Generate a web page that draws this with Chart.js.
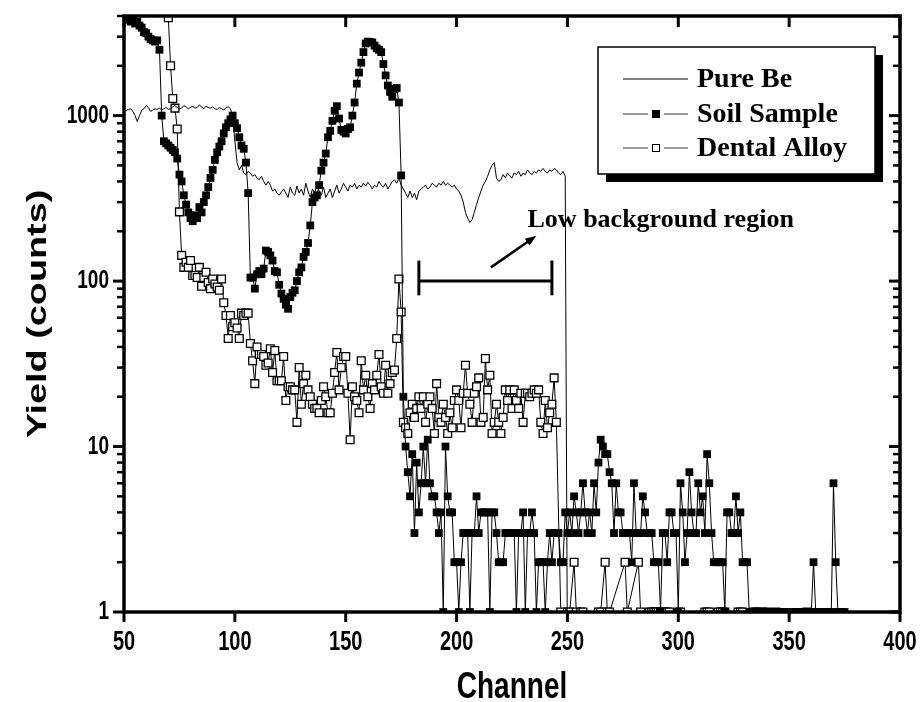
<!DOCTYPE html>
<html>
<head>
<meta charset="utf-8">
<script src="https://cdn.jsdelivr.net/npm/chart.js@4.4.0/dist/chart.umd.min.js"></script>
<style>
  html, body { margin: 0; background: #fff; }
  #wrap { width: 923px; height: 702px; }
</style>
</head>
<body>
<div id="wrap"><canvas id="chart"></canvas></div>
<script>
// -------- Datos (lectura aproximada del espectro) --------
const xTicks = [50, 100, 150, 200, 250, 300, 350, 400];
const yTicks = [1, 10, 100, 1000];
const seriesNames = ["Pure Be", "Soil Sample", "Dental Alloy"];
const xTitle = "Channel";
const yTitle = "Yield (counts)";

// Pure Be: un valor por canal desde el canal 50
const beStart = 50;
const beCounts = [
  1080,1070,1090,1100,1060,1000,920,1000,1080,1100,
  1150,1120,1060,1080,1100,1090,1110,1080,1100,1120,
  1090,1100,1130,1150,1120,1100,1110,1150,1130,1100,
  1120,1140,1110,1120,1160,1130,1100,1140,1120,1110,
  1130,1100,1090,1120,1100,1080,1120,1130,1100,1000,
  700,520,470,500,450,440,460,450,430,440,
  420,410,430,400,380,400,380,350,360,340,
  330,345,360,340,320,370,340,330,375,340,
  360,330,390,350,320,360,340,380,350,330,
  370,320,340,360,320,350,380,340,360,390,
  370,350,380,370,390,360,380,370,390,375,
  395,380,360,380,370,400,380,370,390,360,
  380,400,410,390,420,380,360,340,320,350,
  320,340,310,350,360,370,380,360,370,390,
  380,370,390,380,400,380,390,380,370,380,
  360,350,330,300,260,240,226,235,260,290,
  320,350,380,400,430,470,500,520,420,400,
  410,440,420,450,430,420,450,440,460,430,
  450,440,470,450,440,460,450,470,460,480,
  460,450,470,460,480,470,450,440,460,430,
  0.5
];

// Soil Sample: desde el canal 51
const soilStart = 51;
const soilCounts = [
  3900,3800,3700,3800,3600,3700,3500,3400,3200,3150,
  3000,2900,2850,2800,2850,2500,1000,700,680,660,
  640,620,600,550,440,400,330,290,260,240,
  230,250,240,280,260,300,330,370,420,470,
  540,600,650,700,780,850,900,950,1000,900,
  840,740,660,630,520,340,105,105,90,110,
  115,110,119,153,150,143,133,115,113,95,
  84,78,72,68,80,85,88,100,113,121,
  140,150,170,217,300,320,330,380,465,520,
  590,740,810,930,1070,1140,960,820,800,780,
  830,850,1000,1200,1560,1820,2090,2420,2730,2800,
  2780,2770,2650,2550,2500,2420,2050,1750,1520,1390,
  1300,1450,1470,1200,435,20,10,7,5,9,
  3,8,4,6,10,6,11,6,5,5,
  4,3,4,1,10,5,4,4,2,2,
  1,2,3,3,3,1,3,3,5,3,
  4,4,4,4,1,4,4,3,2,2,
  2,3,3,3,3,3,1,3,3,4,
  1,3,3,4,3,1,2,2,2,1,
  2,3,2,3,3,3,2,2,4,3,
  4,3,5,4,3,4,6,4,3,4,
  3,6,4,8,11,10,9,9,7,6,
  3,6,4,4,3,3,3,3,2,6,
  3,3,3,5,4,3,3,3,2,2,
  2,1,3,3,2,4,4,3,3,1,
  6,4,2,3,7,4,3,3,6,4,
  5,3,9,6,3,2,2,2,2,2,
  1,4,4,3,3,5,3,4,2,2,
  2,1,1,1,1,1,1,1,1,1,
  1,1,1,1,1,1,1,1,1,1,
  1,1,1,1,1,1,1,1,1,1,
  2,1,1,1,1,1,1,1,1,6,
  2,1,1,1,1
];

// Dental Alloy: desde el canal 68 (0 = cuentas nulas, fuera del eje log)
const dentalStart = 68;
const dentalCounts = [
  6000,5000,3900,
  2000,1270,1110,830,262,143,121,130,121,133,
  108,108,105,121,93,105,113,98,90,103,
  96,92,88,103,74,62,45,62,53,56,
  52,45,64,62,64,64,42,33,24,40,
  36,36,35,31,32,39,28,38,25,25,
  25,35,19,23,23,22,22,14,30,18,
  24,27,22,20,18,17,17,16,19,23,
  20,16,16,21,28,37,22,30,35,35,
  21,11,23,20,19,16,33,22,27,20,
  17,24,22,27,36,23,21,31,21,24,
  28,29,45,103,65,14,13,12,16,18,
  15,17,20,17,20,14,18,20,17,12,
  24,15,14,18,15,12,16,13,19,22,
  19,13,21,31,21,18,14,21,23,26,
  14,15,34,22,27,12,14,18,14,12,
  15,22,19,22,17,22,19,17,21,14,
  21,21,20,21,22,21,22,14,12,19,
  13,16,18,26,14,
  0,1,0,0,1,1,0,2,1,0,
  1,1,0,0,0,0,0,0,1,1,
  0,2,1,1,0,0,0,0,0,0,
  2,1,0,0,0,0,2,1,0,0,
  0,1,1,1,1,1,1,1,1,1,
  1,0,0,0,1,1,0,0,0,0,
  0,0,0,0,0,0,1,1,1,0,
  0,0,1,1,1,1,0,0,0,0,
  0,1,1,1,0,0,0,0,1,1,
  1,0,1,0,1,0,0,0,1,0,
  0,0,0,0,0,0,0,0,0,0,
  0,0,1
];

// Anotación "Low background region"
const noteText = "Low background region";
const bracketChannels = [183, 243];
const bracketLevel = 100;
const bracketCaps = [82, 133];
const arrowFrom = [215.5, 121];
const arrowTo = [236, 188];
const notePos = [232, 232];

// -------- Utilidades --------
const SANS = "'Liberation Sans', Arial, sans-serif";
const SERIF = "'Liberation Serif', 'Times New Roman', serif";
const STRETCH = 1.35; // el texto sans del original sale estirado en vertical

function toPoints(start, counts, skipZero) {
  return counts.map((v, i) => ({ x: start + i, y: (skipZero && v === 0) ? null : v }));
}

function seg(ctx, x1, y1, x2, y2) {
  ctx.beginPath(); ctx.moveTo(x1, y1); ctx.lineTo(x2, y2); ctx.stroke();
}

function tallText(ctx, text, x, y, size, align, rotated) {
  ctx.save();
  ctx.translate(x, y);
  if (rotated) { ctx.rotate(-Math.PI / 2); ctx.scale(STRETCH, 1); }
  else ctx.scale(1, STRETCH);
  ctx.font = "bold " + size + "px " + SANS;
  ctx.textAlign = align;
  ctx.textBaseline = "middle";
  ctx.fillStyle = "#000";
  ctx.fillText(text, 0, 0);
  ctx.restore();
}

function noPad(s) {
  s.paddingTop = 0; s.paddingBottom = 0; s.paddingLeft = 0; s.paddingRight = 0;
}

// marco con marcas: fuera abajo/izquierda, dentro arriba/derecha
const framePlugin = {
  id: "frame",
  afterDatasetsDraw(chart) {
    const { ctx, chartArea: a, scales: { x, y } } = chart;
    ctx.save();
    ctx.strokeStyle = "#000";
    ctx.lineCap = "butt";
    ctx.lineWidth = 3.5;
    ctx.strokeRect(a.left, a.top, a.right - a.left, a.bottom - a.top);

    ctx.lineWidth = 3;
    xTicks.forEach(v => {
      const px = x.getPixelForValue(v);
      seg(ctx, px, a.bottom, px, a.bottom + 10);
      seg(ctx, px, a.top, px, a.top + 11);
    });

    const minor = [];
    yTicks.forEach(d => { for (let m = 2; m <= 9; m++) if (d * m <= y.max) minor.push(d * m); });
    yTicks.forEach(v => {
      const py = y.getPixelForValue(v);
      seg(ctx, a.left - 11, py, a.left, py);
      seg(ctx, a.right, py, a.right - 11, py);
    });
    ctx.lineWidth = 2.5;
    minor.forEach(v => {
      const py = y.getPixelForValue(v);
      seg(ctx, a.left - 7, py, a.left, py);
      seg(ctx, a.right, py, a.right - 7, py);
    });
    ctx.restore();

    // etiquetas y títulos de ejes
    xTicks.forEach(v => tallText(ctx, String(v), x.getPixelForValue(v), a.bottom + 31, 20, "center"));
    yTicks.forEach(v => tallText(ctx, String(v), a.left - 15, y.getPixelForValue(v), 19, "right"));
    tallText(ctx, xTitle, (a.left + a.right) / 2, 688, 28, "center");
    tallText(ctx, yTitle, 38, (a.top + a.bottom) / 2, 28, "center", true);
  }
};

// leyenda con sombra y la anotación de la región
const overlayPlugin = {
  id: "overlay",
  afterDraw(chart) {
    const { ctx, scales: { x, y } } = chart;
    ctx.save();

    // barra horizontal con topes
    const bx1 = x.getPixelForValue(bracketChannels[0]);
    const bx2 = x.getPixelForValue(bracketChannels[1]);
    const by = y.getPixelForValue(bracketLevel);
    const c1 = y.getPixelForValue(bracketCaps[1]);
    const c2 = y.getPixelForValue(bracketCaps[0]);
    ctx.strokeStyle = "#000";
    ctx.lineWidth = 3;
    seg(ctx, bx1, by, bx2, by);
    seg(ctx, bx1, c1, bx1, c2);
    seg(ctx, bx2, c1, bx2, c2);

    // flecha
    const ax1 = x.getPixelForValue(arrowFrom[0]), ay1 = y.getPixelForValue(arrowFrom[1]);
    const ax2 = x.getPixelForValue(arrowTo[0]), ay2 = y.getPixelForValue(arrowTo[1]);
    ctx.lineWidth = 2.5;
    seg(ctx, ax1, ay1, ax2 - (ax2 - ax1) * 0.15, ay2 - (ay2 - ay1) * 0.15);
    const ang = Math.atan2(ay2 - ay1, ax2 - ax1);
    ctx.fillStyle = "#000";
    ctx.beginPath();
    ctx.moveTo(ax2, ay2);
    ctx.lineTo(ax2 - 12 * Math.cos(ang - 0.35), ay2 - 12 * Math.sin(ang - 0.35));
    ctx.lineTo(ax2 - 12 * Math.cos(ang + 0.35), ay2 - 12 * Math.sin(ang + 0.35));
    ctx.closePath();
    ctx.fill();

    ctx.font = "bold 26px " + SERIF;
    ctx.textAlign = "left";
    ctx.textBaseline = "middle";
    ctx.fillText(noteText, x.getPixelForValue(notePos[0]), y.getPixelForValue(notePos[1]));

    // leyenda
    const L = { x: 598, y: 47, w: 277, h: 127 };
    ctx.fillStyle = "#000";
    ctx.fillRect(L.x + 8, L.y + 8, L.w, L.h);
    ctx.fillStyle = "#fff";
    ctx.fillRect(L.x, L.y, L.w, L.h);
    ctx.lineWidth = 1.5;
    ctx.strokeRect(L.x, L.y, L.w, L.h);

    const rows = [79, 114, 148];
    const ds = chart.data.datasets;
    ctx.font = "bold 28px " + SERIF;
    rows.forEach((ry, i) => {
      ctx.lineWidth = 1.2;
      ctx.strokeStyle = i === 0 ? "#000" : "#555";
      if (i === 0) {
        seg(ctx, 623, ry, 688, ry);
      } else {
        seg(ctx, 623, ry, 648, ry);
        seg(ctx, 664, ry, 688, ry);
        ctx.fillStyle = ds[i].pointBackgroundColor;
        ctx.fillRect(652, ry - 4, 8, 8);
        ctx.lineWidth = 1;
        ctx.strokeStyle = "#000";
        ctx.strokeRect(652.5, ry - 3.5, 7, 7);
      }
      ctx.fillStyle = "#000";
      ctx.fillText(seriesNames[i], 697, ry + 1);
    });
    ctx.restore();
  }
};

// -------- Gráfico --------
new Chart(document.getElementById("chart"), {
  type: "line",
  data: {
    datasets: [
      {
        label: seriesNames[0],
        data: toPoints(beStart, beCounts, false),
        borderColor: "#000",
        borderWidth: 1,
        pointRadius: 0
      },
      {
        label: seriesNames[1],
        data: toPoints(soilStart, soilCounts, false),
        borderColor: "#000",
        borderWidth: 1,
        pointStyle: "rect",
        pointRadius: 5.5,
        pointBackgroundColor: "#000",
        pointBorderColor: "#000",
        pointBorderWidth: 0
      },
      {
        label: seriesNames[2],
        data: toPoints(dentalStart, dentalCounts, true),
        borderColor: "#000",
        borderWidth: 1,
        spanGaps: true,
        pointStyle: "rect",
        pointRadius: 5.5,
        pointBackgroundColor: "#fff",
        pointBorderColor: "#000",
        pointBorderWidth: 1.3
      }
    ]
  },
  options: {
    responsive: true,
    maintainAspectRatio: false,
    animation: false,
    events: [],
    layout: { padding: { top: 16, right: 23, left: 0, bottom: 0 }, autoPadding: false },
    plugins: { legend: { display: false }, tooltip: { enabled: false } },
    scales: {
      x: {
        type: "linear",
        min: 50,
        max: 400,
        afterBuildTicks: s => { s.ticks = xTicks.map(v => ({ value: v })); },
        afterFit: s => { s.height = 90; noPad(s); },
        ticks: { display: false },
        grid: { display: false },
        border: { display: false }
      },
      y: {
        type: "logarithmic",
        min: 1,
        max: 4000,
        afterBuildTicks: s => { s.ticks = yTicks.map(v => ({ value: v })); },
        afterFit: s => { s.width = 124; noPad(s); },
        ticks: { display: false },
        grid: { display: false },
        border: { display: false }
      }
    }
  },
  plugins: [framePlugin, overlayPlugin]
});
</script>
</body>
</html>
